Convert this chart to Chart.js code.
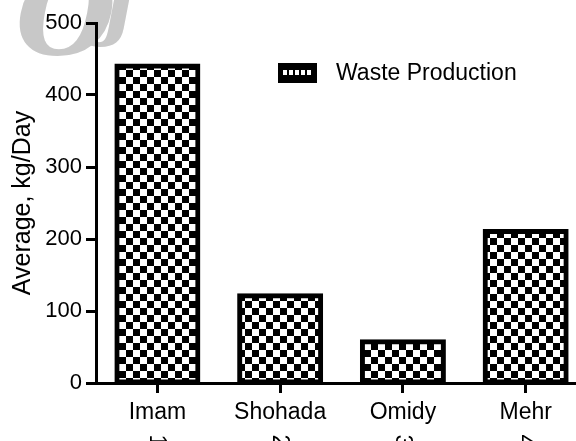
<!DOCTYPE html>
<html>
<head>
<meta charset="utf-8">
<script src="https://cdn.jsdelivr.net/npm/chart.js@4/dist/chart.umd.min.js"></script>
<style>
  html, body { margin: 0; padding: 0; background: #fff; }
  #wrap { position: relative; width: 576px; height: 441px; }
</style>
</head>
<body>
<div id="wrap"><canvas id="myChart" width="576" height="441"></canvas></div>
<script>
// chart data
var categories = ['Imam', 'Shohada', 'Omidy', 'Mehr'];
var categoryNumbers = ['1', '2', '3', '4'];
var wasteProduction = [441, 122, 58, 211];
var yTicks = [0, 100, 200, 300, 400, 500];
var seriesLabel = 'Waste Production';
var yTitle = 'Average, kg/Day';

var FONT = "'Liberation Sans', Arial, sans-serif";

function makeChecker(size) {
    var c = document.createElement('canvas');
    c.width = size * 2;
    c.height = size * 2;
    var g = c.getContext('2d');
    g.fillStyle = '#fff';
    g.fillRect(0, 0, size * 2, size * 2);
    g.fillStyle = '#000';
    g.fillRect(0, 0, size, size);
    g.fillRect(size, size, size, size);
    return c;
}

var ctx = document.getElementById('myChart').getContext('2d');
var checker = ctx.createPattern(makeChecker(7), 'repeat');

// watermark + custom legend + rotated numbers under the labels
var extras = {
    id: 'extras',
    beforeDraw: function(chart) {
        var c = chart.ctx;
        c.save();
        c.fillStyle = '#fff';
        c.fillRect(0, 0, chart.width, chart.height);
        c.fillStyle = '#c8c8c8';
        c.textBaseline = 'alphabetic';
        c.font = "italic bold 115px 'DejaVu Serif', serif";
        c.fillText('O', 16, 54);
        c.font = "italic bold 80px 'DejaVu Serif', serif";
        c.fillText('J', 100, 30);
        c.restore();
    },
    afterDraw: function(chart) {
        var c = chart.ctx;
        c.save();
        // legend
        var bx = 278, by = 63, bw = 39, bh = 20;
        c.fillStyle = '#000';
        c.fillRect(bx, by, bw, bh);
        c.fillStyle = '#fff';
        for (var i = 0; i < 5; i++) {
            c.fillRect(bx + 5 + i * 6, by + 7, 4, 5);
        }
        c.fillStyle = '#000';
        c.font = '23px ' + FONT;
        c.textBaseline = 'middle';
        c.textAlign = 'left';
        c.fillText(seriesLabel, 336, 74);
        // rotated numbers
        var xs = chart.scales.x;
        c.font = '23px ' + FONT;
        c.textAlign = 'center';
        c.textBaseline = 'middle';
        for (var j = 0; j < categoryNumbers.length; j++) {
            var px = xs.getPixelForValue(j + 1);
            c.save();
            c.translate(px - 1, 441);
            c.rotate(Math.PI / 2);
            c.fillText(categoryNumbers[j], 0, 0);
            c.restore();
        }
        c.restore();
    }
};

var points = wasteProduction.map(function(v, i) { return { x: i + 1, y: v }; });

var myChart = new Chart(ctx, {
    type: 'bar',
    data: {
        datasets: [{
            label: seriesLabel,
            data: points,
            backgroundColor: checker,
            borderColor: '#000',
            borderWidth: 5,
            borderSkipped: false,
            barThickness: 82,
            inflateAmount: 2
        }]
    },
    options: {
        responsive: false,
        animation: false,
        layout: { padding: { top: 23, right: 0, left: 0, bottom: 0 } },
        plugins: {
            legend: { display: false },
            tooltip: { enabled: false }
        },
        scales: {
            x: {
                type: 'linear',
                min: 0.5,
                max: 4.41,
                offset: false,
                afterBuildTicks: function(scale) {
                    scale.ticks = categories.map(function(c, i) { return { value: i + 1 }; });
                },
                afterFit: function(scale) { scale.height = 58; },
                border: { display: true, color: '#000', width: 3 },
                grid: { display: true, offset: false, drawOnChartArea: false, drawTicks: true, tickLength: 10, tickWidth: 3, tickColor: '#000' },
                ticks: {
                    color: '#000',
                    font: { family: FONT, size: 23 },
                    padding: 6,
                    maxRotation: 0,
                    autoSkip: false,
                    callback: function(v) { return categories[v - 1]; }
                }
            },
            y: {
                min: 0,
                max: 500,
                afterBuildTicks: function(scale) {
                    scale.ticks = yTicks.map(function(v) { return { value: v }; });
                },
                afterFit: function(scale) { scale.width = 96; },
                border: { display: true, color: '#000', width: 3 },
                grid: { display: true, drawOnChartArea: false, drawTicks: true, tickLength: 10, tickWidth: 3, tickColor: '#000' },
                ticks: {
                    color: '#000',
                    font: { family: FONT, size: 22 },
                    padding: 4
                },
                title: {
                    display: true,
                    text: yTitle,
                    color: '#000',
                    font: { family: FONT, size: 25 },
                    padding: { top: 8, bottom: 0 }
                }
            }
        }
    },
    plugins: [extras]
});
</script>
</body>
</html>
